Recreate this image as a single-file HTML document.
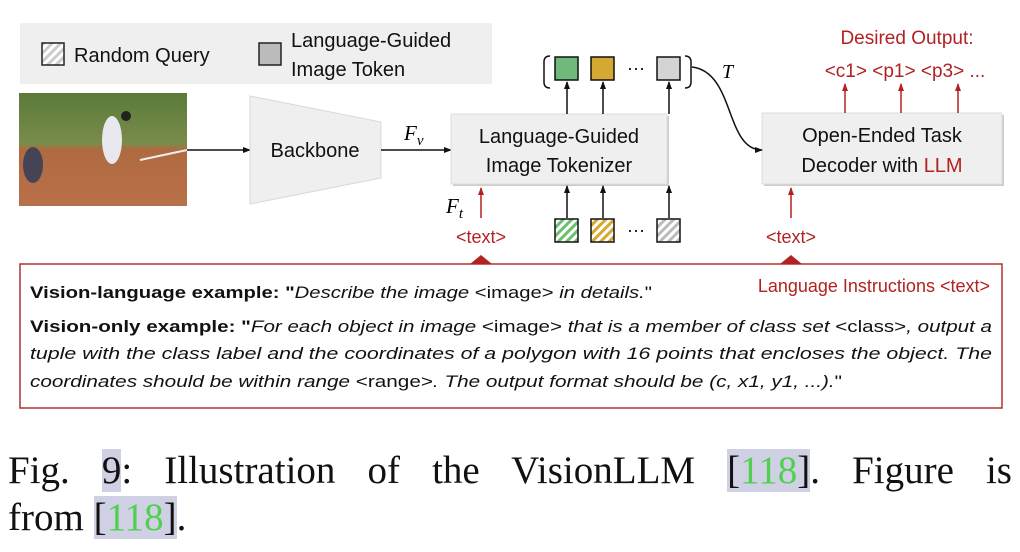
<!DOCTYPE html>
<html><head><meta charset="utf-8"><style>
body{margin:0;width:1020px;height:552px;background:#fff;overflow:hidden;position:relative}
svg{position:absolute;left:0;top:0}
.cap{position:absolute;left:8px;font-family:"Liberation Serif",serif;font-size:39px;color:#111;white-space:nowrap;line-height:44px}
.hl{background:#d0d0e4}
.g{color:#4fd04f}
</style></head><body>
<svg width="1020" height="552" viewBox="0 0 1020 552" font-family="Liberation Sans, sans-serif">
<defs>
<marker id="ab" markerWidth="8" markerHeight="8" refX="7" refY="4" orient="auto" markerUnits="userSpaceOnUse"><path d="M0,1 L8,4 L0,7z" fill="#111"/></marker>
<marker id="ar" markerWidth="8" markerHeight="8" refX="7" refY="4" orient="auto" markerUnits="userSpaceOnUse"><path d="M0,1 L8,4 L0,7z" fill="#b22222"/></marker>
<pattern id="hg" width="6" height="6" patternUnits="userSpaceOnUse" patternTransform="rotate(45)"><rect width="6" height="6" fill="#fff"/><rect width="3" height="6" fill="#ccc"/></pattern>
<pattern id="hgr" width="6" height="6" patternUnits="userSpaceOnUse" patternTransform="rotate(45)"><rect width="6" height="6" fill="#fff"/><rect width="3" height="6" fill="#6cc070"/></pattern>
<pattern id="hy" width="6" height="6" patternUnits="userSpaceOnUse" patternTransform="rotate(45)"><rect width="6" height="6" fill="#fff"/><rect width="3" height="6" fill="#d8a830"/></pattern>
<pattern id="hgy" width="6" height="6" patternUnits="userSpaceOnUse" patternTransform="rotate(45)"><rect width="6" height="6" fill="#fff"/><rect width="3" height="6" fill="#bbb"/></pattern>
<linearGradient id="field" x1="0" y1="0" x2="0" y2="1"><stop offset="0" stop-color="#5a7a3a"/><stop offset="0.45" stop-color="#7a8c4a"/><stop offset="0.5" stop-color="#b06a40"/><stop offset="1" stop-color="#b8704a"/></linearGradient>
</defs>
<rect x="20" y="23" width="472" height="61" fill="#efefef"/>
<rect x="42" y="43" width="22" height="22" fill="url(#hg)" stroke="#222" stroke-width="1.5"/>
<text x="74" y="62" font-size="20" fill="#111">Random Query</text>
<rect x="259" y="43" width="22" height="22" fill="#bbb" stroke="#222" stroke-width="1.5"/>
<text x="291" y="47" font-size="20" fill="#111">Language-Guided</text>
<text x="291" y="76" font-size="20" fill="#111">Image Token</text>
<rect x="19" y="93" width="168" height="113" fill="url(#field)"/>
<path d="M140,160 L187,150" stroke="#eee" stroke-width="2"/>
<ellipse cx="112" cy="140" rx="10" ry="24" fill="#e8e8ee"/>
<circle cx="126" cy="116" r="5" fill="#222"/>
<ellipse cx="33" cy="165" rx="10" ry="18" fill="#445"/>
<line x1="187" y1="150" x2="250" y2="150" stroke="#111" stroke-width="1.5" marker-end="url(#ab)"/>
<polygon points="250,96 381,122 381,178 250,204" fill="#efefef" stroke="#d8d8d8"/>
<text x="315" y="157" font-size="20" text-anchor="middle" fill="#111">Backbone</text>
<line x1="381" y1="150" x2="451" y2="150" stroke="#111" stroke-width="1.5" marker-end="url(#ab)"/>
<text x="404" y="140" font-size="21" font-style="italic" font-family="Liberation Serif, serif">F<tspan font-size="15" dy="5">v</tspan></text>
<rect x="453" y="116" width="216" height="70" fill="#ccc"/>
<rect x="451" y="114" width="216" height="70" fill="#efefef" stroke="#ddd"/>
<text x="559" y="143" font-size="20" text-anchor="middle" fill="#111">Language-Guided</text>
<text x="559" y="172" font-size="20" text-anchor="middle" fill="#111">Image Tokenizer</text>
<rect x="764" y="115" width="240" height="71" fill="#ccc"/>
<rect x="762" y="113" width="240" height="71" fill="#efefef" stroke="#ddd"/>
<text x="882" y="142" font-size="20" text-anchor="middle" fill="#111">Open-Ended Task</text>
<text x="882" y="172" font-size="20" text-anchor="middle" fill="#111">Decoder with <tspan fill="#b22222">LLM</tspan></text>
<path d="M550,56 Q544,56 544,62 L544,82 Q544,88 550,88" fill="none" stroke="#111" stroke-width="1.5"/>
<path d="M685,56 Q691,56 691,62 L691,82 Q691,88 685,88" fill="none" stroke="#111" stroke-width="1.5"/>
<rect x="555" y="57" width="23" height="23" fill="#6fba7a" stroke="#111" stroke-width="1.5"/>
<rect x="591" y="57" width="23" height="23" fill="#d4a832" stroke="#111" stroke-width="1.5"/>
<text x="636" y="74" font-size="18" text-anchor="middle">···</text>
<rect x="657" y="57" width="23" height="23" fill="#d4d4d4" stroke="#111" stroke-width="1.5"/>
<line x1="567" y1="114" x2="567" y2="82" stroke="#111" stroke-width="1.5" marker-end="url(#ab)"/>
<line x1="603" y1="114" x2="603" y2="82" stroke="#111" stroke-width="1.5" marker-end="url(#ab)"/>
<line x1="669" y1="114" x2="669" y2="82" stroke="#111" stroke-width="1.5" marker-end="url(#ab)"/>
<text x="722" y="78" font-size="20" font-style="italic" font-family="Liberation Serif, serif">T</text>
<path d="M692,67 C735,72 725,150 762,150" fill="none" stroke="#111" stroke-width="1.5" marker-end="url(#ab)"/>
<rect x="555" y="219" width="23" height="23" fill="url(#hgr)" stroke="#111" stroke-width="1.5"/>
<rect x="591" y="219" width="23" height="23" fill="url(#hy)" stroke="#111" stroke-width="1.5"/>
<text x="636" y="236" font-size="18" text-anchor="middle">···</text>
<rect x="657" y="219" width="23" height="23" fill="url(#hgy)" stroke="#111" stroke-width="1.5"/>
<line x1="567" y1="218" x2="567" y2="186" stroke="#111" stroke-width="1.5" marker-end="url(#ab)"/>
<line x1="603" y1="218" x2="603" y2="186" stroke="#111" stroke-width="1.5" marker-end="url(#ab)"/>
<line x1="669" y1="218" x2="669" y2="186" stroke="#111" stroke-width="1.5" marker-end="url(#ab)"/>
<text x="446" y="213" font-size="21" font-style="italic" font-family="Liberation Serif, serif">F<tspan font-size="15" dy="5">t</tspan></text>
<line x1="481" y1="218" x2="481" y2="188" stroke="#b22222" stroke-width="1.5" marker-end="url(#ar)"/>
<text x="481" y="243" font-size="18" text-anchor="middle" fill="#b22222">&lt;text&gt;</text>
<line x1="791" y1="218" x2="791" y2="188" stroke="#b22222" stroke-width="1.5" marker-end="url(#ar)"/>
<text x="791" y="243" font-size="18" text-anchor="middle" fill="#b22222">&lt;text&gt;</text>
<text x="907" y="44" font-size="19" text-anchor="middle" fill="#b22222">Desired Output:</text>
<text x="905" y="77" font-size="19" text-anchor="middle" fill="#b22222">&lt;c1&gt; &lt;p1&gt; &lt;p3&gt; ...</text>
<line x1="845" y1="113" x2="845" y2="84" stroke="#b22222" stroke-width="1.5" marker-end="url(#ar)"/>
<line x1="901" y1="113" x2="901" y2="84" stroke="#b22222" stroke-width="1.5" marker-end="url(#ar)"/>
<line x1="958" y1="113" x2="958" y2="84" stroke="#b22222" stroke-width="1.5" marker-end="url(#ar)"/>
<rect x="20" y="264" width="982" height="144" fill="#fff" stroke="#b03030" stroke-width="1.5"/>
<polygon points="470,264 481,255 492,264" fill="#b22222"/>
<polygon points="780,264 791,255 802,264" fill="#b22222"/>
<text x="990" y="292" font-size="18" text-anchor="end" fill="#b22222">Language Instructions &lt;text&gt;</text>
<g font-size="17" fill="#111">
<text x="30" y="298" textLength="622" lengthAdjust="spacingAndGlyphs"><tspan font-weight="bold">Vision-language example: </tspan><tspan font-weight="bold">"</tspan><tspan font-style="italic">Describe the image </tspan>&lt;image&gt;<tspan font-style="italic"> in details.</tspan>"</text>
<text x="30" y="332" textLength="962" lengthAdjust="spacingAndGlyphs"><tspan font-weight="bold">Vision-only example: "</tspan><tspan font-style="italic">For each object in image </tspan>&lt;image&gt;<tspan font-style="italic"> that is a member of class set </tspan>&lt;class&gt;<tspan font-style="italic">, output a</tspan></text>
<text x="30" y="359" textLength="962" lengthAdjust="spacingAndGlyphs" font-style="italic">tuple with the class label and the coordinates of a polygon with 16 points that encloses the object.  The</text>
<text x="30" y="387" textLength="812" lengthAdjust="spacingAndGlyphs"><tspan font-style="italic">coordinates should be within range </tspan>&lt;range&gt;<tspan font-style="italic">. The output format should be (c, x1, y1, ...).</tspan>"</text>
</g>
</svg>
<div class="cap" style="top:449px;width:1004px;text-align:justify;text-align-last:justify">Fig. <span class="hl">9</span>: Illustration of the VisionLLM <span class="hl">[<span class="g">118</span>]</span>. Figure is</div>
<div class="cap" style="top:496px">from <span class="hl">[<span class="g">118</span>]</span>.</div>
</body></html>
